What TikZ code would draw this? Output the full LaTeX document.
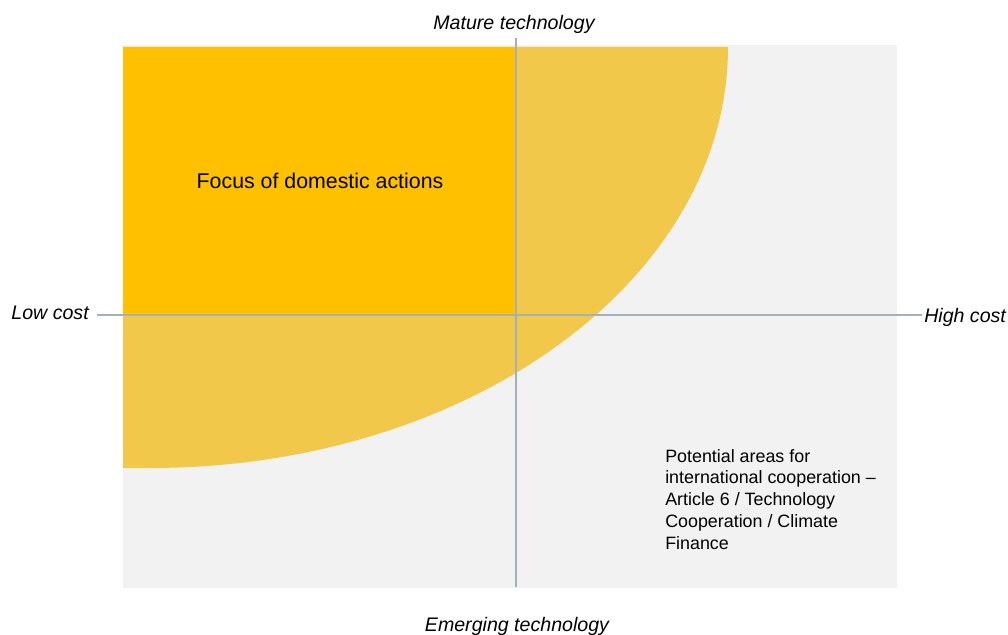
\documentclass[tikz,border=0pt]{standalone}
\usepackage{fontspec}
\setmainfont{Liberation Sans}
\definecolor{darkgold}{RGB}{255,192,0}
\definecolor{lightgold}{RGB}{242,200,75}
\definecolor{panelgrey}{RGB}{242,242,242}
\definecolor{axisgrey}{RGB}{162,178,188}
\tikzset{
  axislabel/.style={font=\fontsize{14.7}{17}\selectfont\itshape, inner sep=0pt},
  axisline/.style={draw=axisgrey, line width=0.8pt}
}
\begin{document}
\begin{tikzpicture}[x=0.75pt, y=-0.75pt]
  \useasboundingbox (0,0) rectangle (1008,635);
  %areas
  \fill[panelgrey] (123,45) rectangle (897,588);
  \fill[lightgold] (728,47) arc[start angle=0, end angle=90, x radius=578, y radius=421]
    -- (123,468) -- (123,47) -- cycle;
  \fill[darkgold] (123,47) rectangle (516,315);
  %axes
  \coordinate (lowend) at (97,315);
  \coordinate (highend) at (922,315);
  \coordinate (topend) at (516,38);
  \coordinate (bottomend) at (516,587);
  \draw[axisline] (lowend) -- (highend);
  \draw[axisline] (topend) -- (bottomend);
  %nodes
  \node[axislabel, anchor=base] at (514,30) (mature) {Mature technology};
  \node[axislabel, anchor=base] at (517,631) (emerging) {Emerging technology};
  \node[axislabel, anchor=base east] at (89,319) (lowcost) {Low cost};
  \node[axislabel, anchor=base west] at (924,322) (highcost) {High cost};
  \node[font=\fontsize{16}{19}\selectfont] at (320,181) (domestic) {Focus of domestic actions};
  \node[font=\fontsize{13.4}{16.3}\selectfont, align=left, anchor=north west, inner sep=0pt]
    at (665,449) (intl) {Potential areas for\\international cooperation --\\Article 6 / Technology\\Cooperation / Climate\\Finance};
\end{tikzpicture}
\end{document}
